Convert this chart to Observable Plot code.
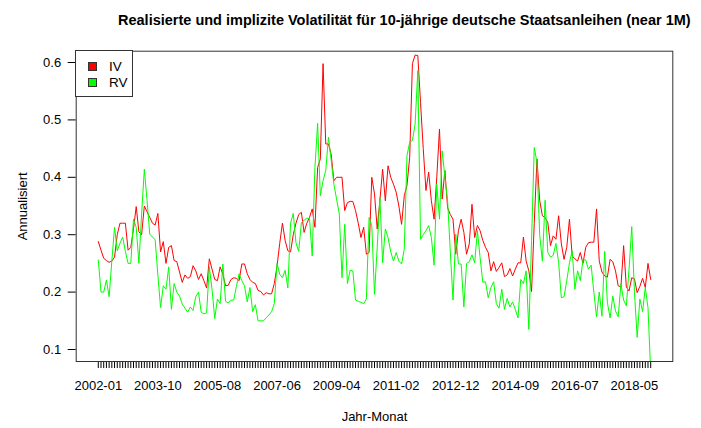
<!DOCTYPE html>
<html>
<head>
<meta charset="utf-8">
<script src="https://cdn.jsdelivr.net/npm/d3@7"></script>
<script src="https://cdn.jsdelivr.net/npm/@observablehq/plot@0.6"></script>
<style>
  body { margin: 0; background: #fff; }
  #wrap { position: relative; width: 701px; height: 428px; font-family: "Liberation Sans", Arial, Helvetica, sans-serif; color: #000; }
  #title { position: absolute; left: 118px; top: 11px; font-size: 14.5px; font-weight: bold; line-height: 18px; white-space: nowrap; }
  #legend { position: absolute; left: 75px; top: 50px; width: 58px; height: 47px; border: 1px solid #333; background: #fff; box-sizing: border-box; }
  .sw { position: absolute; left: 12px; width: 9px; height: 9px; border: 1px solid #333; box-sizing: border-box; }
  .lb { position: absolute; left: 33px; font-size: 13.5px; line-height: 15px; }
</style>
</head>
<body>
<div id="wrap">
  <div id="chart"></div>
  <div id="title"></div>
  <div id="legend"></div>
</div>
<script>
// ---- data ----
const seriesNames = ["IV", "RV"];
const seriesColors = ["#ff0000", "#00ff00"];
const titleText = "Realisierte und implizite Volatilität für 10-jährige deutsche Staatsanleihen (near 1M)";
const xLabel = "Jahr-Monat";
const yLabel = "Annualisiert";

// implied volatility (IV), monthly observations
const iv = [
  0.288, 0.273, 0.259, 0.255, 0.252, 0.254, 0.261, 0.30, 0.32, 0.32,
  0.32, 0.273, 0.278, 0.31, 0.349, 0.305, 0.30, 0.35, 0.34, 0.33,
  0.32, 0.317, 0.337, 0.27, 0.288, 0.25, 0.278, 0.281, 0.255, 0.253,
  0.235, 0.217, 0.23, 0.224, 0.227, 0.246, 0.237, 0.222, 0.232, 0.22,
  0.207, 0.258, 0.24, 0.222, 0.22, 0.244, 0.231, 0.211, 0.212, 0.222,
  0.225, 0.224, 0.22, 0.249, 0.249, 0.232, 0.222, 0.217, 0.215, 0.203,
  0.201, 0.195, 0.199, 0.197, 0.197, 0.215, 0.245, 0.285, 0.32, 0.29,
  0.272, 0.27, 0.30, 0.32, 0.335, 0.339, 0.304, 0.32, 0.33, 0.345,
  0.313, 0.417, 0.432, 0.598, 0.458, 0.458, 0.44, 0.394, 0.40, 0.40,
  0.40, 0.342, 0.356, 0.358, 0.358, 0.342, 0.32, 0.295, 0.313, 0.266,
  0.269, 0.40, 0.371, 0.31, 0.36, 0.414, 0.359, 0.42, 0.40, 0.388,
  0.374, 0.35, 0.318, 0.368, 0.386, 0.435, 0.598, 0.613, 0.612, 0.53,
  0.45, 0.377, 0.409, 0.359, 0.327, 0.40, 0.484, 0.362, 0.412, 0.347,
  0.335, 0.327, 0.266, 0.307, 0.327, 0.304, 0.266, 0.284, 0.353, 0.295,
  0.316, 0.307, 0.29, 0.278, 0.269, 0.237, 0.253, 0.236, 0.243, 0.251,
  0.227, 0.23, 0.241, 0.228, 0.24, 0.251, 0.251, 0.296, 0.254, 0.237,
  0.201, 0.32, 0.432, 0.36, 0.333, 0.33, 0.321, 0.281, 0.298, 0.292,
  0.333, 0.284, 0.257, 0.278, 0.327, 0.263, 0.258, 0.254, 0.269, 0.25,
  0.278, 0.286, 0.287, 0.287, 0.345, 0.254, 0.235, 0.228, 0.226, 0.257,
  0.253, 0.237, 0.211, 0.209, 0.281, 0.209, 0.202, 0.225, 0.223, 0.199,
  0.21, 0.224, 0.208, 0.25, 0.222
];

// realized volatility (RV), monthly observations
const rv = [
  0.256, 0.20, 0.20, 0.221, 0.192, 0.254, 0.313, 0.272, 0.285, 0.296,
  0.271, 0.25, 0.25, 0.327, 0.313, 0.25, 0.336, 0.414, 0.36, 0.301,
  0.296, 0.291, 0.23, 0.173, 0.211, 0.205, 0.244, 0.17, 0.215, 0.20,
  0.193, 0.179, 0.172, 0.165, 0.174, 0.168, 0.192, 0.20, 0.165, 0.162,
  0.164, 0.244, 0.205, 0.154, 0.188, 0.18, 0.249, 0.184, 0.181, 0.186,
  0.186, 0.21, 0.232, 0.22, 0.211, 0.183, 0.208, 0.166, 0.178, 0.15,
  0.15, 0.15, 0.155, 0.16, 0.166, 0.18, 0.25, 0.231, 0.225, 0.238,
  0.207, 0.32, 0.337, 0.286, 0.271, 0.321, 0.325, 0.329, 0.328, 0.263,
  0.417, 0.494, 0.368, 0.394, 0.412, 0.47, 0.43, 0.388, 0.362, 0.336,
  0.225, 0.318, 0.215, 0.238, 0.237, 0.186, 0.184, 0.182, 0.18, 0.188,
  0.33, 0.316, 0.196, 0.278, 0.365, 0.251, 0.31, 0.295, 0.27, 0.254,
  0.269, 0.254, 0.249, 0.275, 0.438, 0.461, 0.464, 0.493, 0.586, 0.292,
  0.30, 0.307, 0.316, 0.295, 0.247, 0.388, 0.327, 0.446, 0.40, 0.359,
  0.27, 0.186, 0.301, 0.249, 0.249, 0.174, 0.25, 0.253, 0.265, 0.251,
  0.307, 0.26, 0.217, 0.218, 0.19, 0.208, 0.218, 0.18, 0.172, 0.205,
  0.17, 0.189, 0.174, 0.183, 0.17, 0.155, 0.222, 0.215, 0.237, 0.135,
  0.29, 0.452, 0.426, 0.30, 0.254, 0.36, 0.269, 0.261, 0.264, 0.285,
  0.251, 0.19, 0.192, 0.22, 0.251, 0.272, 0.205, 0.237, 0.22, 0.256,
  0.256, 0.24, 0.247, 0.20, 0.157, 0.20, 0.158, 0.271, 0.182, 0.155,
  0.193, 0.167, 0.157, 0.214, 0.186, 0.176, 0.24, 0.314, 0.20, 0.121,
  0.188, 0.166, 0.208, 0.173, 0.06
];

// x tick labels (R drops overlapping labels; these are the ones shown) and their observation index
const tickLabels = ["2002-01", "2003-10", "2005-08", "2007-06", "2009-04", "2011-02", "2012-12", "2014-09", "2016-07", "2018-05"];
const tickIndex  = [0, 22, 44, 66, 88, 110, 132, 154, 176, 198];
const yTicks = [0.1, 0.2, 0.3, 0.4, 0.5, 0.6];

// ---- build ----
const n = iv.length;
const idx = d3.range(n);
const rows = idx.map(i => ({i, iv: iv[i], rv: rv[i]}));
const labelAt = new Map(tickIndex.map((t, k) => [t, tickLabels[k]]));
const pad = 0.04 * (n - 1);

const plot = Plot.plot({
  width: 701,
  height: 428,
  marginLeft: 75.7,
  marginRight: 28.7,
  marginTop: 50.7,
  marginBottom: 67,
  style: {fontFamily: "'Liberation Sans', Arial, Helvetica, sans-serif", fontSize: "13px", background: "#fff", color: "#000"},
  x: {
    domain: [-pad, n - 1 + pad],
    ticks: idx,
    tickFormat: i => labelAt.get(i) ?? "",
    tickSize: 7,
    tickPadding: 12,
    label: null
  },
  y: {
    domain: [0.0791, 0.6197],
    ticks: yTicks,
    tickFormat: d => d.toFixed(1),
    tickSize: 8,
    tickPadding: 7,
    label: null
  },
  marks: [
    Plot.line(rows, {x: "i", y: "iv", stroke: seriesColors[0], strokeWidth: 1, clip: true}),
    Plot.line(rows, {x: "i", y: "rv", stroke: seriesColors[1], strokeWidth: 1, clip: true}),
    Plot.frame({stroke: "#333", strokeWidth: 1}),
    Plot.text([xLabel], {text: d => d, frameAnchor: "bottom", dy: 59, fontSize: 13, fill: "#000"}),
    Plot.text([yLabel], {text: d => d, frameAnchor: "left", textAnchor: "middle", dx: -53, rotate: -90, fontSize: 13, fill: "#000"})
  ]
});
document.getElementById("chart").appendChild(plot);
document.getElementById("title").textContent = titleText;

const legend = document.getElementById("legend");
seriesNames.forEach((name, k) => {
  const sw = document.createElement("div");
  sw.className = "sw";
  sw.style.top = (11 + 16 * k) + "px";
  sw.style.background = seriesColors[k];
  legend.appendChild(sw);
  const lb = document.createElement("div");
  lb.className = "lb";
  lb.style.top = (8 + 16 * k) + "px";
  lb.textContent = name;
  legend.appendChild(lb);
});
</script>
</body>
</html>
